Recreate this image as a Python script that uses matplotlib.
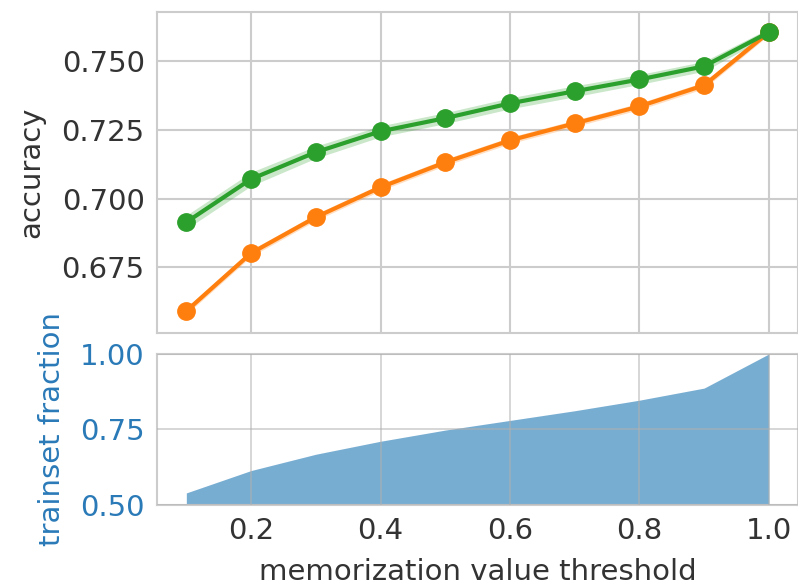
import numpy as np
import matplotlib.pyplot as plt

# données
seuils = [0.1, 0.2, 0.3, 0.4, 0.5, 0.6, 0.7, 0.8, 0.9, 1.0]
acc_vert = [0.6914, 0.7071, 0.7169, 0.7245, 0.7293, 0.7347, 0.7391, 0.7434, 0.7482, 0.7606]
err_vert = [0.0025, 0.0025, 0.0022, 0.0020, 0.0020, 0.0020, 0.0020, 0.0018, 0.0018, 0.0014]
acc_orange = [0.6590, 0.6801, 0.6932, 0.7041, 0.7132, 0.7212, 0.7274, 0.7336, 0.7413, 0.7606]
err_orange = [0.0012, 0.0012, 0.0012, 0.0012, 0.0012, 0.0012, 0.0012, 0.0012, 0.0012, 0.0010]
fraction = [0.540, 0.614, 0.668, 0.711, 0.748, 0.780, 0.812, 0.847, 0.887, 1.0]

plt.style.use('seaborn-v0_8-whitegrid')
plt.rcParams['font.family'] = ['DejaVu Sans']
plt.rcParams['font.size'] = 21
gris = '#333333'
plt.rcParams['text.color'] = gris
plt.rcParams['axes.labelcolor'] = gris
plt.rcParams['xtick.color'] = gris
plt.rcParams['ytick.color'] = gris

fig = plt.figure(figsize=(7.98, 5.87), dpi=100)
ax1 = fig.add_axes([0.197, 0.4327, 0.803, 0.5469])
ax2 = fig.add_axes([0.197, 0.1397, 0.803, 0.2573])

x = np.array(seuils)
for acc, err, c in [(acc_orange, err_orange, '#ff7f0e'), (acc_vert, err_vert, '#2ca02c')]:
    acc = np.array(acc)
    err = np.array(err)
    ax1.fill_between(x, acc - err, acc + err, color=c, alpha=0.25, lw=0)
    ax1.plot(x, acc, '-o', color=c, lw=3, ms=12.5)

ax1.set_xlim(0.055, 1.045)
ax1.set_ylim(0.651, 0.768)
ax1.set_yticks([0.675, 0.700, 0.725, 0.750])
ax1.set_xticks([0.2, 0.4, 0.6, 0.8, 1.0])
ax1.set_xticklabels([])
ax1.set_ylabel('accuracy', labelpad=12)

bleu = '#2a7ab8'
ax2.fill_between(x, 0, fraction, color='#1f77b4', alpha=0.6, lw=0)
ax2.set_xlim(0.055, 1.045)
ax2.set_ylim(0.5, 1.0)
ax2.set_yticks([0.5, 0.75, 1.0])
ax2.set_xticks([0.2, 0.4, 0.6, 0.8, 1.0])
ax2.set_ylabel('trainset fraction', color=bleu, labelpad=10)
ax2.tick_params(axis='y', colors=bleu)
ax2.set_xlabel('memorization value threshold', labelpad=9)

for ax in (ax1, ax2):
    ax.tick_params(axis='both', pad=9)
    ax.grid(True, color='#cccccc', lw=1.5)
    ax.set_axisbelow(True)
    for s in ax.spines.values():
        s.set_visible(True)
        s.set_color('#cccccc')
        s.set_linewidth(1.5)
ax2.set_axisbelow(False)
ax2.grid(True, color='#b0b0b0', lw=1.2, alpha=0.6)

fig.savefig('out.png', dpi=100)
